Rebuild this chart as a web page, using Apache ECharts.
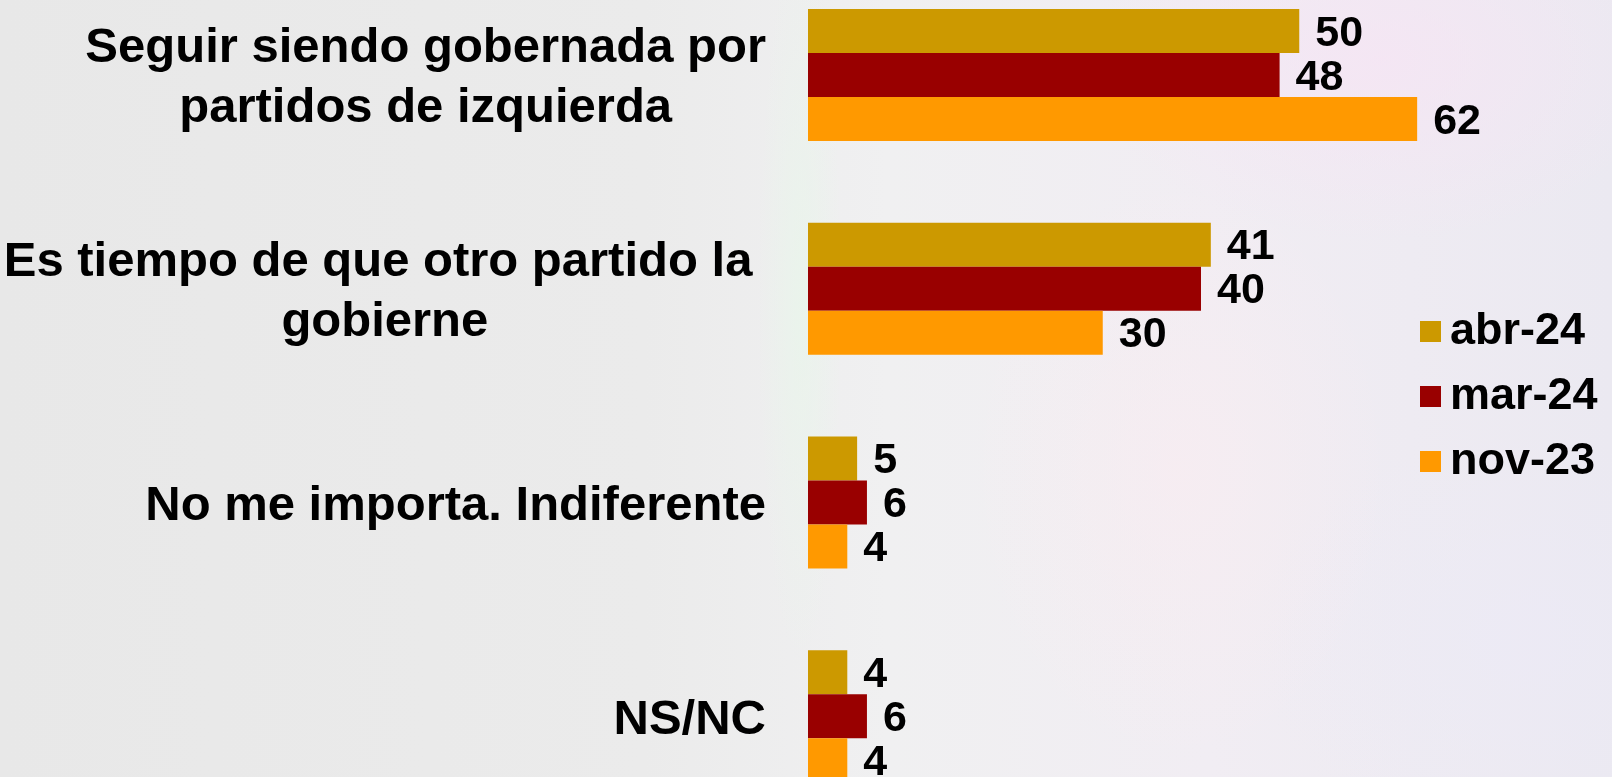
<!DOCTYPE html>
<html>
<head>
<meta charset="utf-8">
<script src="https://cdn.jsdelivr.net/npm/echarts@6/dist/echarts.min.js"></script>
<style>
  html, body { margin: 0; padding: 0; width: 1612px; height: 777px; overflow: hidden; }
  body {
    position: relative;
    background:
      radial-gradient(ellipse 420px 260px at 1380px 60px, rgba(246,228,244,0.75), rgba(246,228,244,0) 70%),
      radial-gradient(ellipse 300px 420px at 1180px 470px, rgba(250,236,240,0.55), rgba(250,236,240,0) 70%),
      radial-gradient(ellipse 60px 520px at 800px 300px, rgba(232,246,234,0.7), rgba(232,246,234,0) 70%),
      radial-gradient(ellipse 380px 300px at 1520px 640px, rgba(236,234,246,0.7), rgba(236,234,246,0) 70%),
      linear-gradient(90deg, #e8e8e8 0%, #ebebeb 40%, #f0f0f1 55%, #f1edf3 75%, #ebe9f1 100%);
  }
  /* The plot runs past the top and bottom edges of the page, so the canvas is taller and shifted up */
  #chart { position: absolute; left: 0; top: -32px; width: 1612px; height: 855px; }
</style>
</head>
<body>
<div id="chart"></div>
<script>
// Survey answers and the three waves of results (percent)
const categories = [
  'Seguir siendo gobernada por\npartidos de izquierda',
  'Es tiempo de que otro partido la \ngobierne',
  'No me importa. Indiferente',
  'NS/NC'
];
const seriesNames = ['abr-24', 'mar-24', 'nov-23'];
const abr24 = [50, 41, 5, 4];
const mar24 = [48, 40, 6, 6];
const nov23 = [62, 30, 4, 4];
const seriesColors = ['#CC9900', '#990000', '#FF9900'];

const FONT = '"Liberation Sans", Arial, sans-serif';
const values = [abr24, mar24, nov23];

const chart = echarts.init(document.getElementById('chart'), null, { renderer: 'canvas' });

chart.setOption({
  backgroundColor: 'transparent',
  animation: false,
  grid: { left: 808, top: 0, width: 786, height: 855, containLabel: false },
  xAxis: {
    type: 'value', min: 0, max: 80,
    show: false
  },
  yAxis: {
    type: 'category',
    data: categories,
    inverse: true,
    axisLine: { show: false },
    axisTick: { show: false },
    axisLabel: {
      margin: 42,
      align: 'right',
      color: '#000',
      padding: [8, 0, 0, 0],
      formatter: v => v.split('\n').map(l => '{c|' + l + '}').join('\n'),
      rich: {
        c: {
          align: 'center',
          fontFamily: FONT,
          fontWeight: 'bold',
          fontSize: 49,
          lineHeight: 60,
          color: '#000'
        }
      }
    }
  },
  legend: {
    orient: 'vertical',
    left: 1420,
    top: 341,
    padding: 0,
    icon: 'rect',
    itemWidth: 21,
    itemHeight: 21,
    itemGap: 20,
    data: seriesNames,
    textStyle: {
      fontFamily: FONT,
      fontWeight: 'bold',
      fontSize: 45,
      color: '#000',
      padding: [0, 0, 0, 4]
    }
  },
  series: seriesNames.map((name, i) => ({
    name,
    type: 'bar',
    data: values[i],
    barWidth: 44,
    barGap: '0%',
    itemStyle: { color: seriesColors[i] },
    label: {
      show: true,
      position: 'right',
      distance: 16,
      offset: [0, 3],
      fontFamily: FONT,
      fontWeight: 'bold',
      fontSize: 43,
      color: '#000'
    }
  }))
});
</script>
</body>
</html>
